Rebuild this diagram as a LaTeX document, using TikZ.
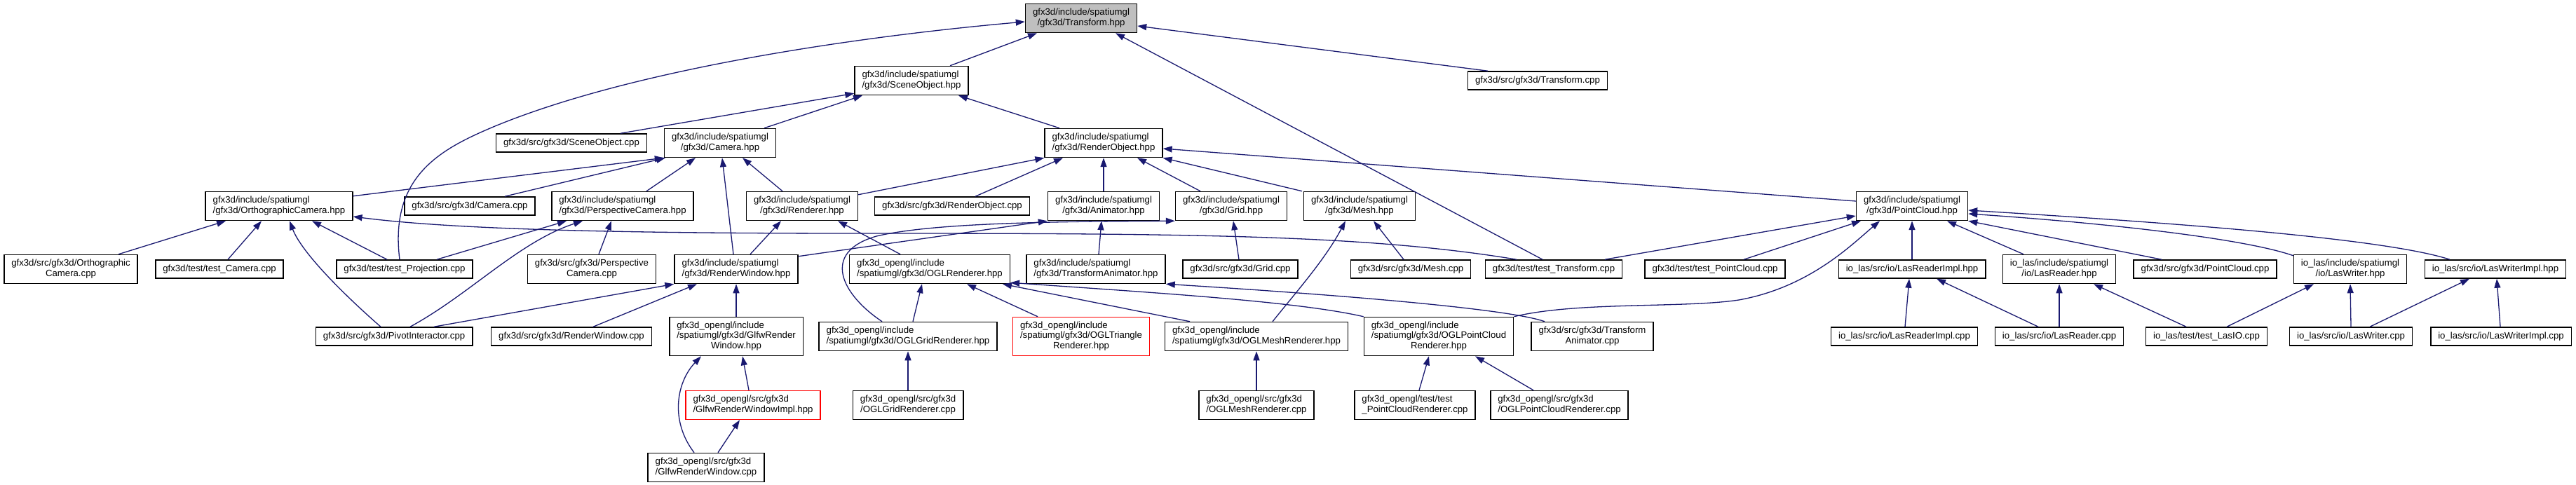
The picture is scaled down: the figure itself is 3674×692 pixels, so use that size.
\documentclass[tikz,border=0pt]{standalone}
\usepackage{fontspec}
\setmainfont{Liberation Sans}
\usetikzlibrary{arrows.meta}
\definecolor{edgec}{HTML}{191970}
\definecolor{grayfill}{HTML}{BFBFBF}
\newcommand\twoline[2]{\begin{tabular}{@{}l@{}}#1\\\multicolumn{1}{@{}c@{}}{#2}\end{tabular}}
\newcommand\threeline[3]{\begin{tabular}{@{}l@{}}#1\\#2\\\multicolumn{1}{@{}c@{}}{#3}\end{tabular}}
\begin{document}
\begin{tikzpicture}[x=1pt,y=-1pt,font=\fontsize{13.2}{14.5}\selectfont,
  box/.style={draw=black,line width=1.5pt,fill=white,inner xsep=10.5pt,inner ysep=2pt},
  n1/.style={box,minimum height=26pt},
  n2/.style={box,minimum height=41pt},
  n3/.style={box,minimum height=55pt},
  redbox/.style={draw=red},
  edge/.style={draw=edgec,line width=1.3pt,-{Triangle[length=13pt,width=9pt]}}]
\useasboundingbox[fill=white] (0,0) rectangle (3674,692);
% Row A
\node[n2,fill=grayfill] (trh) at (1542,26) {\twoline{gfx3d/include/spatiumgl}{/gfx3d/Transform.hpp}};
% Row B
\node[n2] (soh) at (1300,115) {\twoline{gfx3d/include/spatiumgl}{/gfx3d/SceneObject.hpp}};
\node[n1] (trc) at (2193,115) {gfx3d/src/gfx3d/Transform.cpp};
% Row C
\node[n1] (soc) at (815,204) {gfx3d/src/gfx3d/SceneObject.cpp};
\node[n2] (camh) at (1027,204) {\twoline{gfx3d/include/spatiumgl}{/gfx3d/Camera.hpp}};
\node[n2] (roh) at (1574,204) {\twoline{gfx3d/include/spatiumgl}{/gfx3d/RenderObject.hpp}};
% Row D
\node[n2] (orh) at (398,294) {\twoline{gfx3d/include/spatiumgl}{/gfx3d/OrthographicCamera.hpp}};
\node[n1] (camc) at (670,294) {gfx3d/src/gfx3d/Camera.cpp};
\node[n2] (peh) at (888,294) {\twoline{gfx3d/include/spatiumgl}{/gfx3d/PerspectiveCamera.hpp}};
\node[n2] (reh) at (1144,294) {\twoline{gfx3d/include/spatiumgl}{/gfx3d/Renderer.hpp}};
\node[n1] (roc) at (1358,294) {gfx3d/src/gfx3d/RenderObject.cpp};
\node[n2] (anh) at (1574,294) {\twoline{gfx3d/include/spatiumgl}{/gfx3d/Animator.hpp}};
\node[n2] (grh) at (1756,294) {\twoline{gfx3d/include/spatiumgl}{/gfx3d/Grid.hpp}};
\node[n2] (meh) at (1939,294) {\twoline{gfx3d/include/spatiumgl}{/gfx3d/Mesh.hpp}};
\node[n2] (pch) at (2727,294) {\twoline{gfx3d/include/spatiumgl}{/gfx3d/PointCloud.hpp}};
% Row E
\node[n2] (orc) at (101,384) {\twoline{gfx3d/src/gfx3d/Orthographic}{Camera.cpp}};
\node[n1] (tcc) at (313,384) {gfx3d/test/test\_Camera.cpp};
\node[n1] (tpc) at (577,384) {gfx3d/test/test\_Projection.cpp};
\node[n2] (pec) at (844,384) {\twoline{gfx3d/src/gfx3d/Perspective}{Camera.cpp}};
\node[n2] (rwh) at (1050,384) {\twoline{gfx3d/include/spatiumgl}{/gfx3d/RenderWindow.hpp}};
\node[n2] (oglrh) at (1326,384) {\twoline{gfx3d\_opengl/include}{/spatiumgl/gfx3d/OGLRenderer.hpp}};
\node[n2] (tah) at (1563,384) {\twoline{gfx3d/include/spatiumgl}{/gfx3d/TransformAnimator.hpp}};
\node[n1] (grc) at (1769,384) {gfx3d/src/gfx3d/Grid.cpp};
\node[n1] (mec) at (2012,384) {gfx3d/src/gfx3d/Mesh.cpp};
\node[n1] (ttc) at (2216,384) {gfx3d/test/test\_Transform.cpp};
\node[n1] (tpcc) at (2446,384) {gfx3d/test/test\_PointCloud.cpp};
\node[n1] (lrih) at (2727,384) {io\_las/src/io/LasReaderImpl.hpp};
\node[n2] (lrh) at (2937,384) {\twoline{io\_las/include/spatiumgl}{/io/LasReader.hpp}};
\node[n1] (pcc) at (3145,384) {gfx3d/src/gfx3d/PointCloud.cpp};
\node[n2] (lwh) at (3352,384) {\twoline{io\_las/include/spatiumgl}{/io/LasWriter.hpp}};
\node[n1] (lwih) at (3559,384) {io\_las/src/io/LasWriterImpl.hpp};
% Row F
\node[n1] (pic) at (562,480) {gfx3d/src/gfx3d/PivotInteractor.cpp};
\node[n1] (rwc) at (815,480) {gfx3d/src/gfx3d/RenderWindow.cpp};
\node[n3] (gwh) at (1050,480) {\threeline{gfx3d\_opengl/include}{/spatiumgl/gfx3d/GlfwRender}{Window.hpp}};
\node[n2] (oggh) at (1295,480) {\twoline{gfx3d\_opengl/include}{/spatiumgl/gfx3d/OGLGridRenderer.hpp}};
\node[n3,redbox] (ogth) at (1542,480) {\threeline{gfx3d\_opengl/include}{/spatiumgl/gfx3d/OGLTriangle}{Renderer.hpp}};
\node[n2] (ogmh) at (1792,480) {\twoline{gfx3d\_opengl/include}{/spatiumgl/gfx3d/OGLMeshRenderer.hpp}};
\node[n3] (ogph) at (2052,480) {\threeline{gfx3d\_opengl/include}{/spatiumgl/gfx3d/OGLPointCloud}{Renderer.hpp}};
\node[n2] (tac) at (2271,480) {\twoline{gfx3d/src/gfx3d/Transform}{Animator.cpp}};
\node[n1] (lric) at (2716,480) {io\_las/src/io/LasReaderImpl.cpp};
\node[n1] (lrc) at (2937,480) {io\_las/src/io/LasReader.cpp};
\node[n1] (tlc) at (3147,480) {io\_las/test/test\_LasIO.cpp};
\node[n1] (lwc) at (3353,480) {io\_las/src/io/LasWriter.cpp};
\node[n1] (lwic) at (3567,480) {io\_las/src/io/LasWriterImpl.cpp};
% Row G
\node[n2,redbox] (gwih) at (1074,578) {\twoline{gfx3d\_opengl/src/gfx3d}{/GlfwRenderWindowImpl.hpp}};
\node[n2] (oggc) at (1295,578) {\twoline{gfx3d\_opengl/src/gfx3d}{/OGLGridRenderer.cpp}};
\node[n2] (ogmc) at (1792,578) {\twoline{gfx3d\_opengl/src/gfx3d}{/OGLMeshRenderer.cpp}};
\node[n2] (tpcr) at (2018,578) {\twoline{gfx3d\_opengl/test/test}{\_PointCloudRenderer.cpp}};
\node[n2] (ogpc) at (2224,578) {\twoline{gfx3d\_opengl/src/gfx3d}{/OGLPointCloudRenderer.cpp}};
% Row H
\node[n2] (gwc) at (1007,667) {\twoline{gfx3d\_opengl/src/gfx3d}{/GlfwRenderWindow.cpp}};

% Edges into Transform.hpp
\draw[edge] ([xshift=55pt]soh.north) -- ([xshift=-63pt]trh.south);
\draw[edge] ([xshift=-71pt]trc.north) -- ([yshift=-11pt]trh.east);
\draw[edge] ([xshift=-16pt]ttc.north) -- ([xshift=49pt]trh.south);
\draw[edge] ([xshift=-7pt]tpc.north) .. controls (555,250) and (630,212) .. (706,180) .. controls (900,100) and (1213,53) .. ([yshift=-5pt]trh.west);
% SceneObject.hpp
\draw[edge] ([xshift=70pt]soc.north) -- ([yshift=3pt]soh.south west);
\draw[edge] ([xshift=63pt]camh.north) -- ([xshift=-70pt]soh.south);
\draw[edge] ([xshift=-63pt]roh.north) -- ([xshift=67pt]soh.south);
% Camera.hpp
\draw[edge] ([yshift=-7pt]orh.north east) -- (camh.south west);
\draw[edge] ([xshift=50pt]camc.north) -- ([xshift=-78pt]camh.south);
\draw[edge] ([xshift=34pt]peh.north) -- ([xshift=-35pt]camh.south);
\draw[edge] ([xshift=-28pt]reh.north) -- ([xshift=32pt]camh.south);
\draw[edge] ([xshift=-4pt]rwh.north) -- ([xshift=3pt]camh.south);
% RenderObject.hpp
\draw[edge] ([yshift=-5pt]reh.north east) -- (roh.south west);
\draw[edge] ([xshift=33pt]roc.north) -- ([xshift=-58pt]roh.south);
\draw[edge] (anh.north) -- (roh.south);
\draw[edge] ([xshift=-44pt]grh.north) -- ([xshift=48pt]roh.south);
\draw[edge] ([xshift=-82pt]meh.north) -- (roh.south east);
\draw[edge] ([yshift=7pt]pch.west) -- ([yshift=-8pt]roh.east);
% OrthographicCamera.hpp
\draw[edge] ([xshift=68pt]orc.north) -- ([xshift=-76pt]orh.south);
\draw[edge] ([xshift=12pt]tcc.north) -- ([xshift=-25pt]orh.south);
\draw[edge] ([xshift=-19pt]pic.north) .. controls (490,420) and (430,360) .. ([xshift=15pt]orh.south);
\draw[edge] ([xshift=-25pt]tpc.north) -- ([xshift=47pt]orh.south);
\draw[edge] ([xshift=-53pt]ttc.north) .. controls (1950,335) and (1700,333) .. (1230,333) .. controls (900,333) and (650,328) .. ([yshift=-15pt]orh.east);
% PerspectiveCamera.hpp
\draw[edge] ([xshift=46pt]tpc.north) -- ([xshift=-80pt]peh.south);
\draw[edge] ([xshift=23pt]pic.north) .. controls (670,420) and (740,345) .. ([xshift=-57pt]peh.south);
\draw[edge] ([xshift=10pt]pec.north) -- ([xshift=-16pt]peh.south);
% Renderer.hpp
\draw[edge] ([xshift=20pt]rwh.north) -- ([xshift=-30pt]reh.south);
\draw[edge] ([xshift=-42pt]oglrh.north) -- ([xshift=51pt]reh.south);
% Animator.hpp
\draw[edge] ([yshift=-3pt]rwh.north east) -- (anh.south west);
\draw[edge] ([xshift=4pt]tah.north) -- ([xshift=-3pt]anh.south);
% Grid.hpp
\draw[edge] ([xshift=-37pt]oggh.north) .. controls (1200,420) and (1170,360) .. (1250,337) .. controls (1330,318) and (1500,316) .. (grh.south west);
\draw[edge] ([xshift=-2pt]grc.north) -- ([xshift=3pt]grh.south);
% Mesh.hpp
\draw[edge] ([xshift=23pt]ogmh.north) .. controls (1850,415) and (1890,370) .. ([xshift=-20pt]meh.south);
\draw[edge] ([xshift=-10pt]mec.north) -- ([xshift=20pt]meh.south);
% PointCloud.hpp
\draw[edge] ([xshift=73pt]ttc.north) -- ([yshift=-14pt]pch.west);
\draw[edge] ([xshift=41pt]tpcc.north) -- ([xshift=-73pt]pch.south);
\draw[edge] (ogph.north east) .. controls (2250,430) and (2400,440) .. (2480,428) .. controls (2580,410) and (2640,350) .. ([xshift=-46pt]pch.south);
\draw[edge] (lrih.north) -- (pch.south);
\draw[edge] ([xshift=-51pt]lrh.north) -- ([xshift=50pt]pch.south);
\draw[edge] ([xshift=-62pt]pcc.north) -- (pch.south east);
\draw[edge] ([yshift=-2pt]lwh.north west) .. controls (3200,340) and (3000,318) .. ([yshift=-11pt]pch.east);
\draw[edge] ([xshift=-65pt]lwih.north) .. controls (3400,340) and (3100,318) .. ([yshift=-6pt]pch.east);
% io_las
\draw[edge] ([xshift=1pt]lric.north) -- ([xshift=-4pt]lrih.south);
\draw[edge] ([xshift=-30pt]lrc.north) -- ([xshift=35pt]lrih.south);
\draw[edge] (lrc.north) -- (lrh.south);
\draw[edge] ([xshift=-29pt]tlc.north) -- ([xshift=49pt]lrh.south);
\draw[edge] ([xshift=29pt]tlc.north) -- ([xshift=-52pt]lwh.south);
\draw[edge] (lwc.north) -- (lwh.south);
\draw[edge] ([xshift=27pt]lwc.north) -- ([xshift=-37pt]lwih.south);
\draw[edge] ([xshift=-1pt]lwic.north) -- ([xshift=2pt]lwih.south);
% RenderWindow.hpp
\draw[edge] ([xshift=57pt]pic.north) -- (rwh.south west);
\draw[edge] ([xshift=31pt]rwc.north) -- ([xshift=-56pt]rwh.south);
\draw[edge] (gwh.north) -- (rwh.south);
% OGLRenderer.hpp
\draw[edge] ([xshift=7pt]oggh.north) -- ([xshift=-11pt]oglrh.south);
\draw[edge] ([xshift=-62pt]ogth.north) -- ([xshift=53pt]oglrh.south);
\draw[edge] ([xshift=-95pt]ogmh.north) -- ([xshift=104pt]oglrh.south);
\draw[edge] (ogph.north west) .. controls (1850,430) and (1650,418) .. ([yshift=2pt]oglrh.south east);
% TransformAnimator.hpp
\draw[edge] ([xshift=-68pt]tac.north) .. controls (2150,440) and (1900,420) .. (tah.south east);
% opengl sources
\draw[edge] (oggc.north) -- (oggh.south);
\draw[edge] (ogmc.north) -- (ogmh.south);
\draw[edge] ([xshift=6pt]tpcr.north) -- ([xshift=-14pt]ogph.south);
\draw[edge] ([xshift=-37pt]ogpc.north) -- ([xshift=52pt]ogph.south);
\draw[edge] ([xshift=-6pt]gwih.north) -- ([xshift=9pt]gwh.south);
\draw[edge] ([xshift=-17pt]gwc.north) .. controls (955,600) and (965,545) .. ([xshift=-50pt]gwh.south);
\draw[edge] ([xshift=17pt]gwc.north) -- ([xshift=-19pt]gwih.south);
\end{tikzpicture}
\end{document}
